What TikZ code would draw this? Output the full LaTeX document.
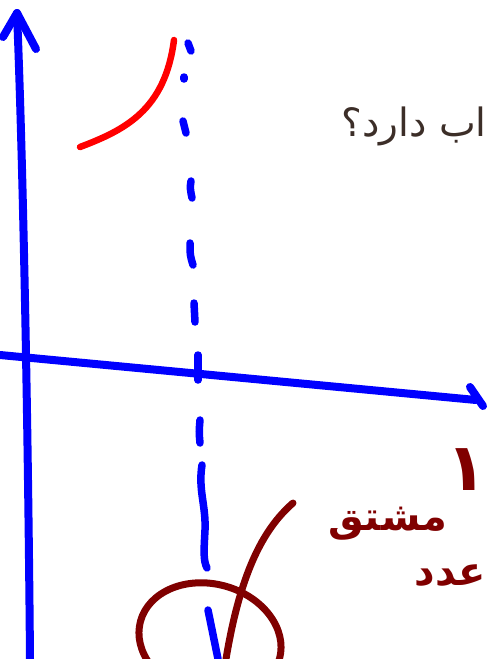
\documentclass[tikz,border=0pt]{standalone}
\usepackage{fontspec}
\newfontfamily\farsi[Script=Arabic]{DejaVu Sans}
\TeXXeTstate=1
\definecolor{inkred}{RGB}{128,0,0}
\definecolor{printbrown}{RGB}{60,46,40}
\begin{document}
\begin{tikzpicture}[x=1pt, y=-1pt,
  axis/.style={draw=blue, line width=8pt, line cap=round, line join=round},
  asym/.style={draw=blue, line width=7.5pt, line cap=round},
  graph/.style={draw=red, line width=6.5pt, line cap=round},
  ink/.style={draw=inkred, line width=7pt, line cap=round, line join=round},
  hand/.style={text=inkred, inner sep=0pt, font=\farsi\bfseries\fontsize{40}{44}\selectfont},
  printed/.style={text=printbrown, inner sep=0pt, font=\farsi\fontsize{39}{44}\selectfont}
]
\useasboundingbox (0,0) rectangle (488,659);
\fill[white] (0,0) rectangle (488,659);
% axes
\coordinate (ybot) at (30,659);
\coordinate (ytip) at (17,13);
\draw[axis] (ybot) .. controls (28,420) and (23,160) .. (ytip);
\draw[axis] (3,37) -- (ytip) -- (36,49);
\coordinate (xleft) at (0,355);
\coordinate (xtip) at (476,400);
\draw[axis] (xleft) -- (xtip);
\draw[axis] (470,387) -- (483,406);
% vertical asymptote
\draw[asym] (188,43) -- (191,51);
\draw[asym] (184,77) -- (184,79);
\draw[asym] (183,121) -- (186,133);
\draw[asym] (191,181) .. controls (190,188) .. (192,198);
\draw[asym] (190,243) .. controls (190,255) .. (193,265);
\draw[asym] (194,303) -- (195,322);
\draw[asym] (198,355) -- (198,380);
\draw[asym] (200,420) .. controls (199,432) .. (200,443);
\draw[asym] (202,465) .. controls (198,490) and (206,505) .. (205,530)
  .. controls (204,550) and (203,560) .. (207,568);
\draw[asym] (208,610) -- (218,659);
% branch of the graph
\draw[graph] (80,147) .. controls (125,130) and (165,110) .. (174,40);
% printed question
\node[printed, anchor=base east] (qtext) at (487,136) {\beginR اب دارد؟\endR};
% handwriting
\draw[ink] (293,503) .. controls (262,530) and (240,575) .. (226,659);
\draw[ink, rotate around={-15:(210,640)}] (210,640) ellipse [x radius=72, y radius=56];
\node[hand, anchor=base east, font=\farsi\bfseries\fontsize{66}{70}\selectfont] (one) at (487,490) {\beginR ۱\endR};
\node[hand, anchor=base east] (word1) at (447,530) {\beginR مشتق\endR};
\node[hand, anchor=base east] (word2) at (486,585) {\beginR عدد\endR};
\end{tikzpicture}
\end{document}
